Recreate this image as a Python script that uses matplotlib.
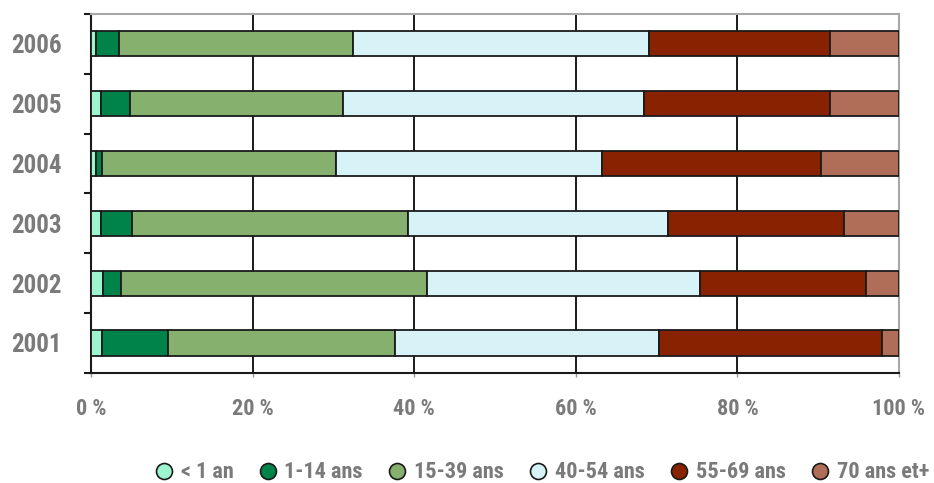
import numpy as np
import matplotlib
matplotlib.use("Agg")
import matplotlib.pyplot as plt
from matplotlib.lines import Line2D

# --- data (share of cases per age group, %) ---------------------------------
years = ["2001", "2002", "2003", "2004", "2005", "2006"]
groups = ["< 1 an", "1-14 ans", "15-39 ans", "40-54 ans", "55-69 ans", "70 ans et+"]
lt1 = [1.4, 1.5, 1.2, 0.6, 1.2, 0.6]
a1_14 = [8.1, 2.2, 3.9, 0.7, 3.6, 2.9]
a15_39 = [28.1, 37.9, 34.1, 29.0, 26.4, 28.9]
a40_54 = [32.7, 33.8, 32.2, 32.9, 37.2, 36.6]
a55_69 = [27.6, 20.5, 21.8, 27.1, 23.1, 22.5]
a70 = [2.1, 4.1, 6.8, 9.7, 8.5, 8.5]
series = [lt1, a1_14, a15_39, a40_54, a55_69, a70]
xticks = [0, 20, 40, 60, 80, 100]

COLORS = ["#9cf5cf", "#00834a", "#86b06e", "#d8f3f7", "#882200", "#b06e58"]
TXT = "#7a7a7a"
INK = "#1a1a1a"
FONT = ["Roboto Condensed", "Archivo Narrow", "DejaVu Sans"]

fig = plt.figure(figsize=(9.34, 4.83), dpi=100)
ax = fig.add_axes([0.0975, 0.228, 0.865, 0.743])

y = np.arange(len(years))
left = np.zeros(len(years))
for vals, col in zip(series, COLORS):
    vals = np.array(vals)
    ax.barh(y, vals, left=left, height=0.42, color=col, edgecolor=INK,
            linewidth=1.3, zorder=3)
    left += vals

ax.set_xlim(0, 100)
ax.set_ylim(-0.5, len(years) - 0.5)
for xv in xticks[1:-1]:
    ax.axvline(xv, color=INK, lw=1.4, zorder=1)

ax.set_xticks(xticks)
ax.set_xticklabels([f"{v} %" for v in xticks], fontsize=16, color=TXT,
                   family=FONT, fontweight="bold")
ax.set_yticks(y)
ax.set_yticklabels(years, fontsize=18, color=TXT, family=FONT,
                   fontweight="bold")
ax.set_yticks(np.arange(-0.5, len(years)), minor=True)
ax.tick_params(axis="y", which="major", length=0, pad=21)
ax.tick_params(axis="y", which="minor", length=5, width=1.5, color=INK)
ax.tick_params(axis="x", length=3, width=1.0, color="#999999", pad=15)

for side in ("left", "bottom"):
    ax.spines[side].set_color(INK)
    ax.spines[side].set_linewidth(1.5)
for side in ("top", "right"):
    ax.spines[side].set_color("#a8a8a8")
    ax.spines[side].set_linewidth(1.5)

handles = [Line2D([], [], ls="none", marker="o", markersize=11.5,
                  markerfacecolor=c, markeredgecolor=INK,
                  markeredgewidth=1.2, label=g)
           for g, c in zip(groups, COLORS)]
leg = fig.legend(handles=handles, loc="lower right", ncol=6,
                 bbox_to_anchor=(1.016, -0.042), frameon=False,
                 handletextpad=0.2, columnspacing=1.0, handlelength=1.1,
                 prop={"family": FONT, "size": 16, "weight": "bold"})
for t in leg.get_texts():
    t.set_color(TXT)

fig.savefig("out.png", dpi=100)
